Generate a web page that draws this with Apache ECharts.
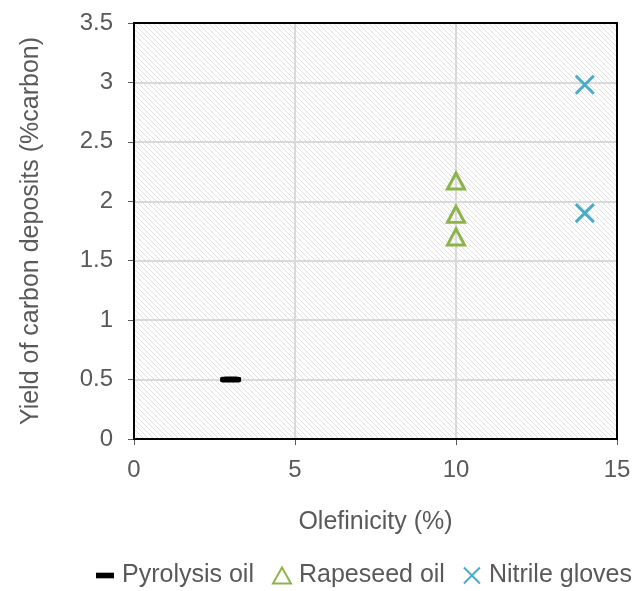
<!DOCTYPE html>
<html><head><meta charset="utf-8">
<script src="https://cdn.jsdelivr.net/npm/echarts@6/dist/echarts.min.js"></script>
<style>html,body{margin:0;padding:0;background:#fff;}#c{width:638px;height:591px;}</style>
</head><body><div id="c"></div>
<script>
const seriesNames = ['Pyrolysis oil', 'Rapeseed oil', 'Nitrile gloves'];
const pyrolysisOil = [[3, 0.5]];
const rapeseedOil = [[10, 2.17], [10, 1.89], [10, 1.7]];
const nitrileGloves = [[14, 2.98], [14, 1.9]];
const xTicks = [0, 5, 10, 15];
const yTicks = [0, 0.5, 1, 1.5, 2, 2.5, 3, 3.5];
const xRange = [0, 15];
const yRange = [0, 3.5];

// hatch pattern
const pc = document.createElement('canvas');
pc.width = 5; pc.height = 5;
const g = pc.getContext('2d');
g.fillStyle = '#ffffff'; g.fillRect(0,0,5,5);
g.strokeStyle = '#e0e0e0'; g.lineWidth = 1;
g.beginPath();
g.moveTo(-1,-1); g.lineTo(6,6);
g.moveTo(-1,4); g.lineTo(1,6);
g.moveTo(4,-1); g.lineTo(6,1);
g.stroke();

const chart = echarts.init(document.getElementById('c'), null, {renderer: 'canvas'});
const font = 'Liberation Sans, Arial, sans-serif';
const frameAxis = {type: 'value', z: 20,
  axisLine: {show: true, onZero: false, lineStyle: {color: '#000', width: 2}},
  axisTick: {show: false}, axisLabel: {show: false}, splitLine: {show: false}};
chart.setOption({
  animation: false,
  textStyle: {fontFamily: font},
  grid: {left: 134, right: 21, top: 23, bottom: 152, show: true,
         backgroundColor: {image: pc, repeat: 'repeat'}, borderColor: '#000', borderWidth: 2},
  xAxis: [{type: 'value', min: xRange[0], max: xRange[1], interval: 5,
    name: 'Olefinicity (%)', nameLocation: 'middle', nameGap: 71,
    nameTextStyle: {fontSize: 25, color: '#595959', fontFamily: font},
    axisLine: {show: true, onZero: false, lineStyle: {color: '#000', width: 2}},
    axisTick: {show: true, length: 6, lineStyle: {color: '#595959', width: 1}},
    axisLabel: {fontSize: 24, color: '#595959', margin: 19, fontFamily: font},
    splitLine: {show: true, showMinLine: false, showMaxLine: false, lineStyle: {color: '#d9d9d9', width: 2}}},
    Object.assign({position: 'top', min: xRange[0], max: xRange[1]}, frameAxis)],
  yAxis: [{type: 'value', min: yRange[0], max: yRange[1], interval: 0.5,
    name: 'Yield of carbon deposits (%carbon)', nameLocation: 'middle', nameGap: 90,
    nameTextStyle: {fontSize: 25, color: '#595959', fontFamily: font},
    axisLine: {show: true, onZero: false, lineStyle: {color: '#000', width: 2}},
    axisTick: {show: true, length: 6, lineStyle: {color: '#595959', width: 1}},
    axisLabel: {fontSize: 24, color: '#595959', margin: 21, fontFamily: font},
    splitLine: {show: true, showMinLine: false, showMaxLine: false, lineStyle: {color: '#d9d9d9', width: 2}}},
    Object.assign({position: 'right', min: yRange[0], max: yRange[1]}, frameAxis)],
  legend: {top: 563, left: 96, width: 542, padding: 0, itemGap: 18, itemWidth: 18, itemHeight: 16,
    textStyle: {fontSize: 25, color: '#595959', fontFamily: font, padding: [0,0,0,3]},
    data: [
      {name: seriesNames[0], icon: 'path://M0,0L16,0L16,5L0,5Z'},
      {name: seriesNames[1]},
      {name: seriesNames[2]}
    ]},
  series: [
    {name: seriesNames[0], type: 'scatter', data: pyrolysisOil,
     symbol: 'roundRect', symbolSize: [21, 6],
     itemStyle: {color: '#000', opacity: 1}},
    {name: seriesNames[1], type: 'scatter', data: rapeseedOil,
     symbol: 'triangle', symbolSize: [17, 16],
     itemStyle: {color: 'rgba(255,255,255,0)', borderColor: '#8DB44B', borderWidth: 3, opacity: 1}},
    {name: seriesNames[2], type: 'scatter', data: nitrileGloves,
     symbol: 'path://M0,0L10,10M10,0L0,10', symbolSize: 18,
     itemStyle: {color: 'rgba(255,255,255,0)', borderColor: '#4BACC6', borderWidth: 3, opacity: 1}}
  ]
});
// plot frame from the axis scales
const pMin = chart.convertToPixel({xAxisIndex: 0, yAxisIndex: 0}, [xRange[0], yRange[0]]);
const pMax = chart.convertToPixel({xAxisIndex: 0, yAxisIndex: 0}, [xRange[1], yRange[1]]);
if (pMin && pMax) {
  chart.setOption({
    graphic: [{type: 'rect', z: 1000, zlevel: 0, silent: true,
      shape: {x: pMin[0], y: pMax[1], width: pMax[0] - pMin[0], height: pMin[1] - pMax[1]},
      style: {fill: null, stroke: '#000', lineWidth: 2}}]
  });
}
</script></body></html>
